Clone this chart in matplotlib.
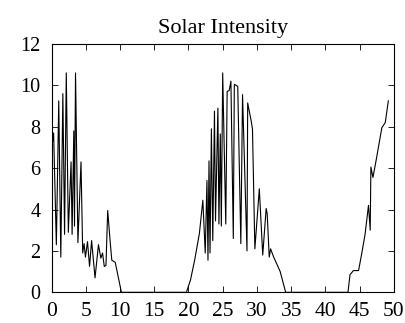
import numpy as np
import matplotlib
matplotlib.use("Agg")
import matplotlib.pyplot as plt

plt.rcParams.update({
    'font.family': 'serif',
    'font.serif': ['Liberation Serif', 'DejaVu Serif'],
    'xtick.direction': 'in',
    'ytick.direction': 'in',
    'xtick.top': True,
    'ytick.right': True,
})

# hours
hours = [0.0, 0.3, 0.7, 1.05, 1.35, 1.65, 1.9, 2.15, 2.45, 2.85, 3.0, 3.25, 3.35, 3.5,
         3.85, 4.3, 4.55, 4.75, 4.95, 5.25, 5.55, 5.85, 6.35, 6.85, 7.2, 7.45, 7.7, 7.95,
         8.2, 8.55, 8.8, 9.3, 10.2,
         19.7, 20.3, 20.9, 21.6, 22.1, 22.45, 22.7, 22.85, 23.0, 23.15, 23.35, 23.55, 23.8,
         23.95, 24.3, 24.45, 24.65, 24.8, 25.0, 25.45, 25.65, 25.95, 26.2, 26.55, 26.7,
         27.2, 27.65, 27.9, 28.55, 28.65, 29.15, 29.35, 29.7, 30.35, 30.85, 31.35, 31.5,
         31.8, 32.0, 32.45, 33.0, 33.4, 34.2,
         43.3, 43.6, 44.1, 44.85, 45.3, 45.8, 46.3, 46.55, 46.65, 46.95, 47.4, 48.25,
         48.75, 49.2]

intensity = [6.9, 7.7, 2.3, 9.25, 1.7, 9.6, 2.8, 10.6, 2.9, 6.3, 2.8, 7.8, 3.2, 10.6,
             2.4, 6.3, 1.9, 2.35, 1.7, 2.45, 1.25, 2.5, 0.7, 2.3, 1.65, 1.9, 1.25, 1.3,
             3.95, 2.5, 1.55, 1.45, 0.0,
             0.0, 0.6, 1.55, 2.85, 4.45, 1.9, 5.4, 1.55, 6.35, 1.9, 7.9, 2.5, 8.75,
             3.45, 8.9, 3.3, 7.65, 3.2, 10.6, 3.3, 9.7, 9.75, 10.2, 2.6, 10.05,
             9.95, 2.35, 9.55, 2.0, 9.15, 8.3, 7.9, 2.1, 5.0, 1.8, 4.05, 3.8,
             1.7, 2.1, 1.7, 1.3, 1.0, 0.0,
             0.0, 0.85, 1.05, 1.05, 1.85, 2.8, 4.2, 3.0, 6.05, 5.55, 6.35, 7.95,
             8.2, 9.25]

fig = plt.figure(figsize=(4.06, 3.23), dpi=100)
ax = fig.add_axes([0.127, 0.095, 0.843, 0.769])

ax.plot(hours, intensity, color='black', linewidth=0.8)

ax.set_xlim(0, 50)
ax.set_ylim(0, 12)
ax.set_xticks(np.arange(0, 51, 5))
ax.set_yticks(np.arange(0, 13, 2))
ax.tick_params(length=4, width=0.6)
ax.tick_params(axis='x', labelsize=15.5, pad=7)
ax.tick_params(axis='y', labelsize=14.5, pad=8)
for s in ax.spines.values():
    s.set_linewidth(0.8)

ax.set_title("Solar Intensity", fontsize=16, pad=8)

plt.savefig("out.png", dpi=100)
